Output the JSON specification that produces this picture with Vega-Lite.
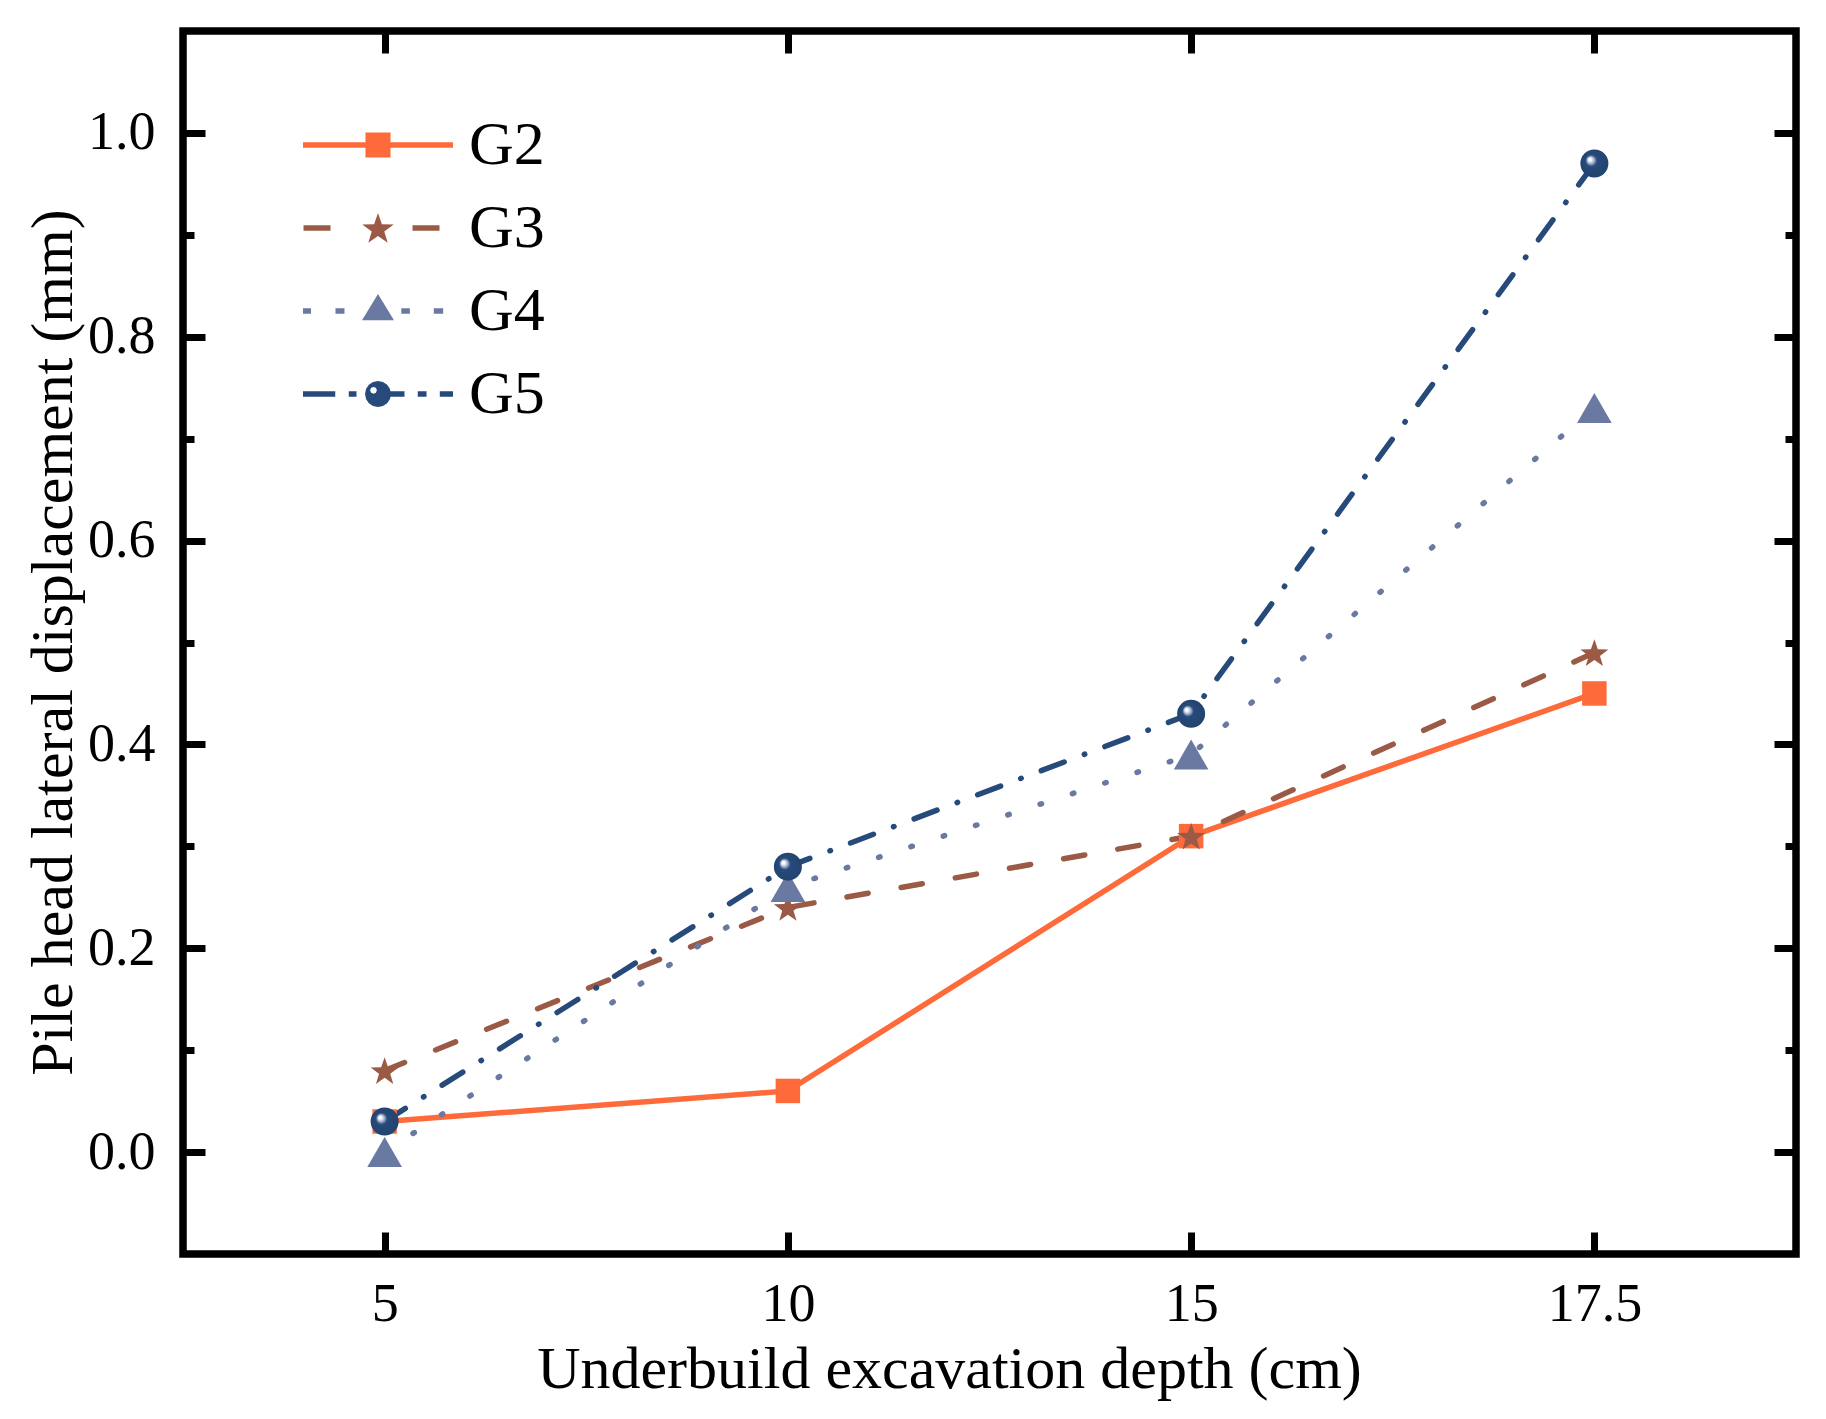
{
  "$schema": "https://vega.github.io/schema/vega-lite/v6.json",
  "width": 1613,
  "height": 1223,
  "autosize": "none",
  "padding": {"left": 183, "top": 31, "right": 30, "bottom": 165},
  "background": "white",
  "data": {
    "values": [
      {"group": "G2", "depth": 5, "value": 0.03},
      {"group": "G2", "depth": 10, "value": 0.06},
      {"group": "G2", "depth": 15, "value": 0.31},
      {"group": "G2", "depth": 17.5, "value": 0.45},
      {"group": "G3", "depth": 5, "value": 0.08},
      {"group": "G3", "depth": 10, "value": 0.24},
      {"group": "G3", "depth": 15, "value": 0.31},
      {"group": "G3", "depth": 17.5, "value": 0.49},
      {"group": "G4", "depth": 5, "value": 0.0},
      {"group": "G4", "depth": 10, "value": 0.26},
      {"group": "G4", "depth": 15, "value": 0.39},
      {"group": "G4", "depth": 17.5, "value": 0.73},
      {"group": "G5", "depth": 5, "value": 0.03},
      {"group": "G5", "depth": 10, "value": 0.28},
      {"group": "G5", "depth": 15, "value": 0.43},
      {"group": "G5", "depth": 17.5, "value": 0.97}
    ]
  },
  "encoding": {
    "x": {"field": "depth", "type": "ordinal", "scale": {"type": "point", "padding": 0.5}, "axis": null},
    "y": {"field": "value", "type": "quantitative", "scale": {"domain": [-0.1, 1.1], "nice": false, "zero": false}, "axis": null}
  },
  "layer": [
    {
      "transform": [{"filter": "datum.group === 'G2'"}],
      "mark": {"type": "line", "strokeWidth": 5.5, "strokeCap": "round", "color": "#FF6A3A"},
      "encoding": {
        "x": {
          "field": "depth", "type": "ordinal",
          "scale": {"type": "point", "padding": 0.5},
          "axis": {
            "orient": "bottom", "title": "Underbuild excavation depth (cm)",
            "labelAngle": 0, "labelBaseline": "alphabetic", "labelPadding": 88,
            "tickSize": -22, "titleX": 766, "titleY": 133,
            "titleAlign": "center", "titleBaseline": "alphabetic"
          }
        },
        "y": {
          "field": "value", "type": "quantitative",
          "scale": {"domain": [-0.1, 1.1], "nice": false, "zero": false},
          "axis": {
            "orient": "left", "title": "Pile head lateral displacement (mm)",
            "values": [0, 0.2, 0.4, 0.6, 0.8, 1.0], "format": ".1f",
            "tickSize": -22, "labelPadding": 50,
            "titleX": -112, "titleY": 611, "titleAngle": -90,
            "titleAlign": "center", "titleBaseline": "alphabetic"
          }
        }
      }
    },
    {
      "transform": [{"filter": "datum.group === 'G3'"}],
      "mark": {"type": "line", "strokeWidth": 5.5, "strokeCap": "round", "color": "#9A5A45", "strokeDash": [21.5, 33.5]},
      "encoding": {
        "x": {
          "field": "depth", "type": "ordinal",
          "scale": {"type": "point", "padding": 0.5},
          "axis": {"orient": "top", "title": null, "labels": false, "tickSize": -22}
        },
        "y": {
          "field": "value", "type": "quantitative",
          "scale": {"domain": [-0.1, 1.1], "nice": false, "zero": false},
          "axis": {"orient": "right", "title": null, "labels": false, "values": [0, 0.2, 0.4, 0.6, 0.8, 1.0], "tickSize": -22}
        }
      }
    },
    {
      "transform": [{"filter": "datum.group === 'G4'"}],
      "mark": {"type": "line", "strokeWidth": 5.5, "strokeCap": "round", "color": "#6A79A1", "strokeDash": [1.5, 32.5]},
      "encoding": {
        "y": {
          "field": "value", "type": "quantitative",
          "scale": {"domain": [-0.1, 1.1], "nice": false, "zero": false},
          "axis": {"orient": "left", "title": null, "labels": false, "values": [0.1, 0.3, 0.5, 0.7, 0.9], "tickSize": -11}
        }
      }
    },
    {
      "transform": [{"filter": "datum.group === 'G5'"}],
      "mark": {"type": "line", "strokeWidth": 5.5, "strokeCap": "round", "color": "#264A7A", "strokeDash": [24.5, 21.5, 0.5, 21.5]},
      "encoding": {
        "y": {
          "field": "value", "type": "quantitative",
          "scale": {"domain": [-0.1, 1.1], "nice": false, "zero": false},
          "axis": {"orient": "right", "title": null, "labels": false, "values": [0.1, 0.3, 0.5, 0.7, 0.9], "tickSize": -11}
        }
      }
    },
    {
      "transform": [{"filter": "datum.group === 'G2'"}],
      "mark": {"type": "point", "shape": "square", "filled": true, "size": 600, "color": "#FF6A3A", "opacity": 1}
    },
    {
      "transform": [{"filter": "datum.group === 'G3'"}],
      "mark": {
        "type": "point", "filled": true, "size": 870, "color": "#9A5A45", "opacity": 1,
        "shape": "M0,-0.905L0.2351,-0.2281L0.9511,-0.2135L0.3804,0.2191L0.5878,0.9045L0,0.4955L-0.5878,0.9045L-0.3804,0.2191L-0.9511,-0.2135L-0.2351,-0.2281Z"
      }
    },
    {
      "transform": [{"filter": "datum.group === 'G4'"}],
      "mark": {"type": "point", "shape": "triangle-up", "filled": true, "size": 1200, "color": "#6A79A1", "opacity": 1}
    },
    {
      "transform": [{"filter": "datum.group === 'G5'"}],
      "mark": {
        "type": "point", "shape": "circle", "filled": true, "size": 784, "opacity": 1,
        "fill": {
          "gradient": "radial", "x1": 0.32, "y1": 0.34, "r1": 0, "x2": 0.5, "y2": 0.5, "r2": 0.5,
          "stops": [
            {"offset": 0, "color": "#ffffff"},
            {"offset": 0.1, "color": "#ffffff"},
            {"offset": 0.2, "color": "#c3cee0"},
            {"offset": 0.3, "color": "#7f96ba"},
            {"offset": 0.4, "color": "#264A7A"},
            {"offset": 1, "color": "#22446f"}
          ]
        }
      }
    },
    {
      "transform": [{"filter": "datum.value > 5"}],
      "mark": {"type": "point", "filled": true, "size": 22500, "opacity": 1},
      "encoding": {
        "color": {
          "field": "group", "type": "nominal",
          "scale": {"domain": ["G2", "G3", "G4", "G5"], "range": ["#FF6A3A", "#9A5A45", "#6A79A1", "#264A7A"]},
          "legend": {
            "title": null, "orient": "none", "legendX": 120, "legendY": 84,
            "padding": 0, "symbolSize": 22500, "clipHeight": 60, "rowPadding": 21,
            "labelOffset": 16, "labelFont": "Liberation Serif", "labelFontSize": 62,
            "labelColor": "black", "symbolStrokeWidth": 0, "symbolOpacity": 1
          }
        },
        "shape": {
          "field": "group", "type": "nominal",
          "scale": {
            "domain": ["G2", "G3", "G4", "G5"],
            "range": [
              "M-1,-0.036H1V0.036H-1Z M-0.167,-0.167H0.167V0.167H-0.167Z",
              "M-0.993,-0.036H-0.633V0.036H-0.993Z M0.46,-0.036H0.82V0.036H0.46Z M0,-0.2L0.0517,-0.0512L0.2092,-0.048L0.0837,0.0472L0.1293,0.198L0,0.108L-0.1293,0.198L-0.0837,0.0472L-0.2092,-0.048L-0.0517,-0.0512Z",
              "M-1,-0.036H-0.893V0.036H-1Z M-0.567,-0.036H-0.447V0.036H-0.567Z M0.311,-0.036H0.425V0.036H0.311Z M0.744,-0.036H0.869V0.036H0.744Z M0,-0.227L0.213,0.124L-0.213,0.124Z",
              "M-1,-0.038H-0.57V0.038H-1Z M-0.39,-0.038H-0.287V0.038H-0.39Z M0.123,-0.038H0.353V0.038H0.123Z M0.53,-0.038H0.647V0.038H0.53Z M0.824,-0.038H1V0.038H0.824Z M0.173,0L0.1598,0.0662L0.1223,0.1223L0.0662,0.1598L0,0.173L-0.0662,0.1598L-0.1223,0.1223L-0.1598,0.0662L-0.173,0L-0.1598,-0.0662L-0.1223,-0.1223L-0.0662,-0.1598L0,-0.173L0.0662,-0.1598L0.1223,-0.1223L0.1598,-0.0662Z M-0.015,-0.05L-0.028,-0.082L-0.06,-0.095L-0.092,-0.082L-0.105,-0.05L-0.092,-0.018L-0.06,-0.005L-0.028,-0.018Z"
            ]
          },
          "legend": {
            "title": null, "orient": "none", "legendX": 120, "legendY": 84,
            "padding": 0, "symbolSize": 22500, "clipHeight": 60, "rowPadding": 21,
            "labelOffset": 16, "labelFont": "Liberation Serif", "labelFontSize": 62,
            "labelColor": "black", "symbolStrokeWidth": 0, "symbolOpacity": 1
          }
        }
      }
    }
  ],
  "resolve": {"axis": {"x": "independent", "y": "independent"}},
  "config": {
    "view": {"stroke": "black", "strokeWidth": 7.5},
    "axis": {
      "domain": false, "grid": false,
      "tickColor": "black", "tickWidth": 7,
      "labelFont": "Liberation Serif", "labelFontSize": 54, "labelColor": "black",
      "titleFont": "Liberation Serif", "titleFontSize": 60, "titleFontWeight": "normal", "titleColor": "black",
      "labelOverlap": false
    }
  }
}
